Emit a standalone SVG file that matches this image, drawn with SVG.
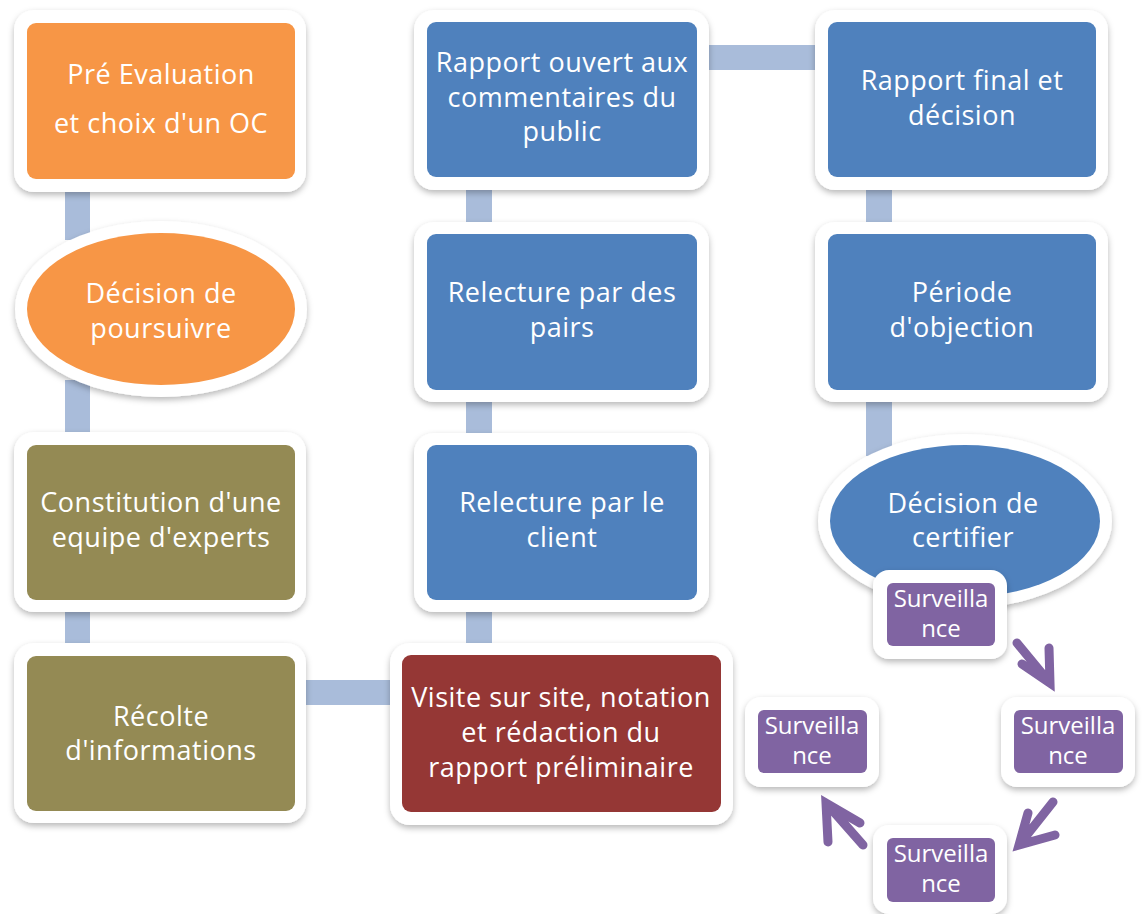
<svg xmlns="http://www.w3.org/2000/svg" width="1145" height="914" viewBox="0 0 1145 914">
<defs>
<filter id="sh" x="-10%" y="-10%" width="120%" height="130%">
<feDropShadow dx="0" dy="3" stdDeviation="3" flood-color="#000" flood-opacity="0.28"/>
</filter>
<style>
.frame{fill:#ffffff;filter:url(#sh);}
.orange{fill:#F79646;}
.olive{fill:#948A54;}
.blue{fill:#4F81BD;}
.red{fill:#953735;}
.purple{fill:#8064A2;}
.conn{fill:#A9BCDA;}
.t{font-family:"Open Sans","Noto Sans",sans-serif;font-size:27px;fill:#ffffff;text-anchor:middle;letter-spacing:0.5px;}
.ts{font-family:"Open Sans","Noto Sans",sans-serif;font-size:24px;fill:#ffffff;text-anchor:middle;}
.arr{fill:none;stroke:#8064A2;stroke-width:9;stroke-linecap:round;stroke-linejoin:miter;}
</style>
</defs>
<rect width="1145" height="914" fill="#ffffff"/>
<g id="connectors">
<rect class="conn" x="65" y="185" width="25" height="55"/>
<rect class="conn" x="65" y="380" width="25" height="60"/>
<rect class="conn" x="65" y="605" width="25" height="45"/>
<rect class="conn" x="300" y="680" width="95" height="25"/>
<rect class="conn" x="466" y="185" width="26" height="45"/>
<rect class="conn" x="466" y="396" width="26" height="42"/>
<rect class="conn" x="466" y="605" width="26" height="45"/>
<rect class="conn" x="700" y="45" width="120" height="25"/>
<rect class="conn" x="866" y="185" width="26" height="45"/>
<rect class="conn" x="866" y="396" width="26" height="60"/>
<path class="arr" d="M1017,643 L1050,683 M1049,648 L1050,683 L1022,664"/>
<path class="arr" d="M1053,802 L1019,845 M1028,813 L1019,845 L1055,835"/>
<path class="arr" d="M863,845 L826,803 M828,842 L826,803 L860,823"/>
</g>
<g id="n1">
<rect class="frame" x="14" y="10" width="292" height="182" rx="20"/>
<rect class="orange" x="27" y="23" width="268" height="156" rx="9"/>
<text class="t" x="161" y="84">Pré Evaluation</text>
<text class="t" x="161" y="133">et choix d'un OC</text>
</g>
<g id="n2">
<ellipse class="frame" cx="161" cy="309" rx="146" ry="88"/>
<ellipse class="orange" cx="161" cy="309" rx="134" ry="76"/>
<text class="t" x="161" y="303">Décision de</text>
<text class="t" x="161" y="338">poursuivre</text>
</g>
<g id="n3">
<rect class="frame" x="14" y="432" width="292" height="180" rx="20"/>
<rect class="olive" x="27" y="445" width="268" height="155" rx="9"/>
<text class="t" x="161" y="512">Constitution d'une</text>
<text class="t" x="161" y="547">equipe d'experts</text>
</g>
<g id="n4">
<rect class="frame" x="14" y="643" width="292" height="180" rx="20"/>
<rect class="olive" x="27" y="656" width="268" height="155" rx="9"/>
<text class="t" x="161" y="726">Récolte</text>
<text class="t" x="161" y="760">d'informations</text>
</g>
<g id="n5">
<rect class="frame" x="390" y="643" width="343" height="182" rx="20"/>
<rect class="red" x="402" y="655" width="319" height="157" rx="9"/>
<text class="t" x="561" y="707">Visite sur site, notation</text>
<text class="t" x="561" y="742">et rédaction du</text>
<text class="t" x="561" y="777">rapport préliminaire</text>
</g>
<g id="n6">
<rect class="frame" x="414" y="433" width="295" height="179" rx="20"/>
<rect class="blue" x="427" y="445" width="270" height="155" rx="9"/>
<text class="t" x="562" y="512">Relecture par le</text>
<text class="t" x="562" y="547">client</text>
</g>
<g id="n7">
<rect class="frame" x="414" y="222" width="295" height="180" rx="20"/>
<rect class="blue" x="427" y="234" width="270" height="156" rx="9"/>
<text class="t" x="562" y="302">Relecture par des</text>
<text class="t" x="562" y="337">pairs</text>
</g>
<g id="n8">
<rect class="frame" x="414" y="10" width="295" height="180" rx="20"/>
<rect class="blue" x="427" y="22" width="270" height="155" rx="9"/>
<text class="t" x="562" y="72">Rapport ouvert aux</text>
<text class="t" x="562" y="107">commentaires du</text>
<text class="t" x="562" y="141">public</text>
</g>
<g id="n9">
<rect class="frame" x="815" y="10" width="293" height="180" rx="20"/>
<rect class="blue" x="828" y="22" width="268" height="155" rx="9"/>
<text class="t" x="962" y="90">Rapport final et</text>
<text class="t" x="962" y="125">décision</text>
</g>
<g id="n10">
<rect class="frame" x="815" y="222" width="293" height="180" rx="20"/>
<rect class="blue" x="828" y="234" width="268" height="156" rx="9"/>
<text class="t" x="962" y="302">Période</text>
<text class="t" x="962" y="337">d'objection</text>
</g>
<g id="n11">
<ellipse class="frame" cx="965" cy="521" rx="147" ry="87"/>
<ellipse class="blue" cx="965" cy="521" rx="135" ry="76"/>
<text class="t" x="963" y="513">Décision de</text>
<text class="t" x="963" y="547">certifier</text>
</g>
<g id="s1">
<rect class="frame" x="873" y="570" width="134" height="89" rx="16"/>
<rect class="purple" x="887" y="583" width="108" height="63" rx="6"/>
<text class="ts" x="941" y="607">Surveilla</text>
<text class="ts" x="941" y="637">nce</text>
</g>
<g id="s2">
<rect class="frame" x="1001" y="697" width="134" height="90" rx="16"/>
<rect class="purple" x="1014" y="710" width="109" height="63" rx="6"/>
<text class="ts" x="1068" y="734">Surveilla</text>
<text class="ts" x="1068" y="764">nce</text>
</g>
<g id="s3">
<rect class="frame" x="873" y="825" width="134" height="89" rx="16"/>
<rect class="purple" x="887" y="838" width="108" height="64" rx="6"/>
<text class="ts" x="941" y="862">Surveilla</text>
<text class="ts" x="941" y="892">nce</text>
</g>
<g id="s4">
<rect class="frame" x="745" y="697" width="134" height="90" rx="16"/>
<rect class="purple" x="758" y="710" width="109" height="63" rx="6"/>
<text class="ts" x="812" y="734">Surveilla</text>
<text class="ts" x="812" y="764">nce</text>
</g>
</svg>
